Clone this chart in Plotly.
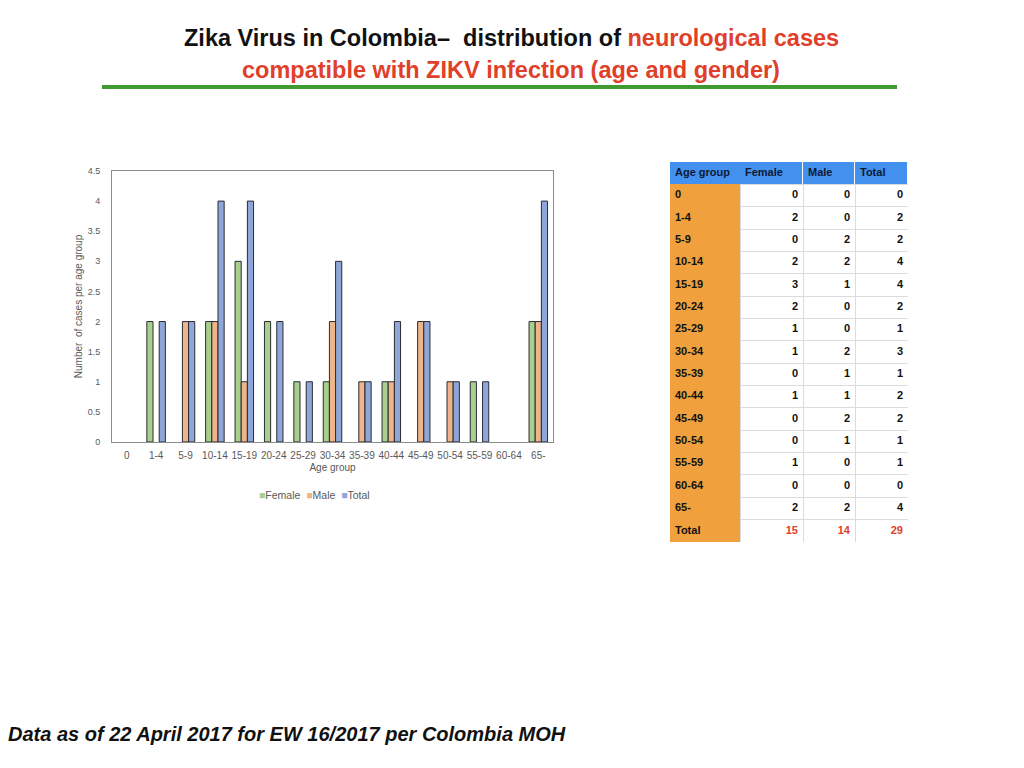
import plotly.graph_objects as go

AGE_GROUPS = ["0", "1-4", "5-9", "10-14", "15-19", "20-24", "25-29", "30-34",
              "35-39", "40-44", "45-49", "50-54", "55-59", "60-64", "65-"]
FEMALE = [0, 2, 0, 2, 3, 2, 1, 1, 0, 1, 0, 0, 1, 0, 2]
MALE = [0, 0, 2, 2, 1, 0, 0, 2, 1, 1, 2, 1, 0, 0, 2]
TOTAL = [0, 2, 2, 4, 4, 2, 1, 3, 1, 2, 2, 1, 1, 0, 4]
TOTAL_ROW = [15, 14, 29]
TABLE_HEADER = ["Age group", "Female", "Male", "Total"]

COLORS = {"Female": "#a9cf8f", "Male": "#eeb48a", "Total": "#8fa6d8"}
FONT = "Liberation Sans, Arial, sans-serif"

# page is 1024x768, body has an 8px margin; the shot comes out slightly squeezed vertically
OFF = 8
W, H = 1024 - 2 * OFF, 768 - 2 * OFF
VS, VT = 0.9868, 12.15


def px(x):
    return (x - OFF) / W


def py(y):
    return 1 - (y / VS - VT) / H


fig = go.Figure()
for name, vals in (("Female", FEMALE), ("Male", MALE), ("Total", TOTAL)):
    fig.add_trace(go.Bar(x=AGE_GROUPS, y=[v if v else None for v in vals], name=name,
                         marker=dict(color=COLORS[name],
                                     line=dict(color="#2b2b33", width=1)),
                         xaxis="x", yaxis="y", showlegend=False, hoverinfo="x+y+name"))

# ── table on the right, drawn on its own axes ─────────────────────────────
col_edges = [0, 70, 133, 185, 238]
n_rows = len(AGE_GROUPS) + 2                 # header + groups + total
row_edges = list(range(n_rows + 1))
labels = AGE_GROUPS + ["Total"]
columns = [FEMALE + [TOTAL_ROW[0]], MALE + [TOTAL_ROW[1]], TOTAL + [TOTAL_ROW[2]]]

# fills: 1 orange, 2 blue; white cells left empty so the grid shows
cscale = [[0, "#ffffff"], [0.5, "#f0a03c"], [1, "#4391ef"]]
fig.add_trace(go.Heatmap(x=col_edges[:2], y=row_edges, z=[[2]] + [[1]] * len(labels),
                         colorscale=cscale, zmin=0, zmax=2, showscale=False,
                         hoverinfo="skip", xaxis="x2", yaxis="y2"))
fig.add_trace(go.Heatmap(x=col_edges[1:], y=row_edges,
                         z=[[2, 2, 2]] + [[None, None, None]] * len(labels),
                         colorscale=cscale, zmin=0, zmax=2, showscale=False,
                         xgap=1, hoverinfo="skip", xaxis="x2", yaxis="y2"))

# header text
fig.add_trace(go.Scatter(x=[e + 5 for e in col_edges[:-1]], y=[0.5] * 4,
                         mode="text", text=[f"<b>{t}</b>" for t in TABLE_HEADER],
                         textposition="middle right", showlegend=False, hoverinfo="skip",
                         textfont=dict(family=FONT, size=11, color="#0d1a33"),
                         xaxis="x2", yaxis="y2"))
# age group labels
fig.add_trace(go.Scatter(x=[col_edges[0] + 5] * len(labels),
                         y=[i + 1.5 for i in range(len(labels))],
                         mode="text", text=[f"<b>{t}</b>" for t in labels],
                         textposition="middle right", showlegend=False, hoverinfo="skip",
                         textfont=dict(family=FONT, size=11, color="#111111"),
                         xaxis="x2", yaxis="y2"))
# numbers
num_colors = ["#111111"] * len(AGE_GROUPS) + ["#e0402a"]
for c, vals in enumerate(columns):
    fig.add_trace(go.Scatter(x=[col_edges[c + 2] - 5] * len(vals),
                             y=[i + 1.5 for i in range(len(vals))],
                             mode="text", text=[f"<b>{v}</b>" for v in vals],
                             textposition="middle left", showlegend=False, hoverinfo="skip",
                             textfont=dict(family=FONT, size=11, color=num_colors),
                             xaxis="x2", yaxis="y2"))

fig.update_layout(
    width=W, height=H, margin=dict(l=0, r=0, t=0, b=0),
    paper_bgcolor="white", plot_bgcolor="white",
    barmode="group", bargap=0.37, bargroupgap=0,
    font=dict(family=FONT, color="#595959"),
    xaxis=dict(domain=[px(112), px(553)], anchor="y", showline=True, mirror=True,
               linecolor="#8c8c8c", linewidth=1, ticks="", showgrid=False,
               tickfont=dict(size=10, color="#595959"), ticklabelstandoff=4,
               title=dict(text="Age group", font=dict(size=10, color="#595959"), standoff=4)),
    yaxis=dict(domain=[py(441), py(170)], anchor="x", range=[0, 4.5], dtick=0.5,
               showline=True, mirror=True, linecolor="#8c8c8c", linewidth=1,
               ticks="", showgrid=False, zeroline=False,
               tickfont=dict(size=9, color="#595959"), ticklabelstandoff=9,
               title=dict(text="Number  of cases per age group",
                          font=dict(size=10, color="#595959"), standoff=3)),
    xaxis2=dict(domain=[px(670), px(908)], anchor="y2", range=[0, col_edges[-1]],
                tickvals=col_edges, showticklabels=False, showgrid=True,
                gridcolor="#dcdcdc", zeroline=False, fixedrange=True),
    yaxis2=dict(domain=[py(541), py(161)], anchor="x2", range=[n_rows, 0],
                tickvals=row_edges, showticklabels=False, showgrid=True,
                gridcolor="#dcdcdc", zeroline=False, fixedrange=True),
)

# legend as a compact text line, like the original
legend_txt = "  ".join(f"<span style='color:{COLORS[n]}'>\u25a0</span>{n}"
                       for n in ("Female", "Male", "Total"))
fig.add_annotation(xref="paper", yref="paper", x=px(314), y=py(494), showarrow=False,
                   xanchor="center", yanchor="middle", text=legend_txt,
                   font=dict(family=FONT, size=10.5, color="#595959"))

fig.add_shape(type="line", xref="paper", yref="paper",
              x0=px(102), x1=px(897), y0=py(86), y1=py(86),
              line=dict(color="#3f9a32", width=4))

fig.add_annotation(xref="paper", yref="paper", x=px(511), y=py(37), showarrow=False,
                   xanchor="center", yanchor="middle",
                   text="<b>Zika Virus in Colombia\u2013  distribution of "
                        "<span style='color:#e0402a'>neurological cases</span></b>",
                   font=dict(family=FONT, size=23.5, color="#111111"))
fig.add_annotation(xref="paper", yref="paper", x=px(511), y=py(69), showarrow=False,
                   xanchor="center", yanchor="middle",
                   text="<b>compatible with ZIKV infection (age and gender)</b>",
                   font=dict(family=FONT, size=23.5, color="#e0402a"))
fig.add_annotation(xref="paper", yref="paper", x=px(6), y=py(733), xanchor="left",
                   yanchor="middle", showarrow=False,
                   text="<b><i>Data as of 22 April 2017 for EW 16/2017 per Colombia MOH</i></b>",
                   font=dict(family=FONT, size=20, color="#111111"))

fig.write_html("out.html")
